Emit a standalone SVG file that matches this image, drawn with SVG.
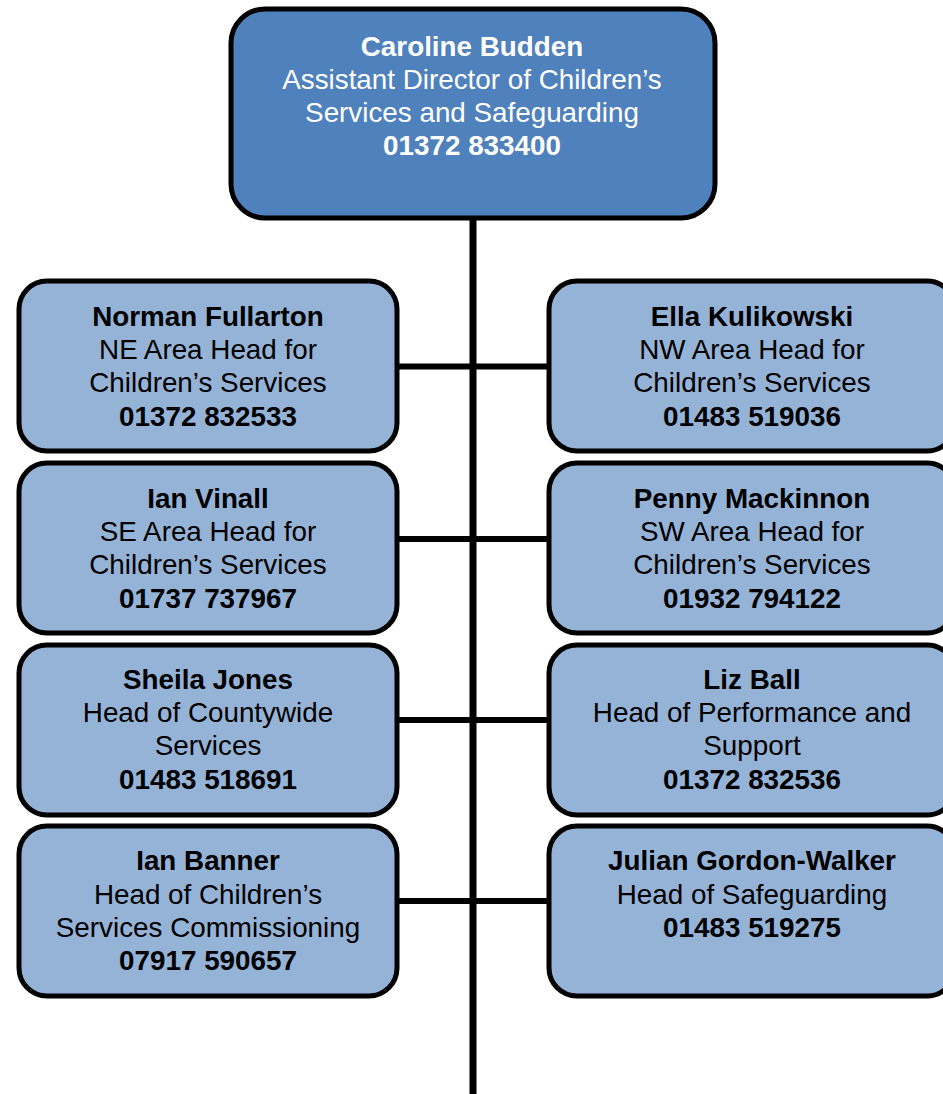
<svg xmlns="http://www.w3.org/2000/svg" width="943" height="1094" viewBox="0 0 943 1094">
<style>
.box{fill:#95b3d7;stroke:#000;stroke-width:5}
.top{fill:#4f81bd;stroke:#000;stroke-width:5}
text{font-family:"Liberation Sans",Arial,sans-serif;font-size:27.8px;text-anchor:middle;fill:#000}
.w{fill:#fff}
.b{font-weight:bold}
.conn{stroke:#000;stroke-width:6;fill:none}
.trunk{stroke:#000;stroke-width:7;fill:none}
</style>
<g id="connectors">
<line class="trunk" x1="473" y1="218" x2="473" y2="1094"/>
<line class="conn" x1="398" y1="366.5" x2="549" y2="366.5"/>
<line class="conn" x1="398" y1="539" x2="549" y2="539"/>
<line class="conn" x1="398" y1="720" x2="549" y2="720"/>
<line class="conn" x1="398" y1="901" x2="549" y2="901"/>
</g>
<g id="caroline">
<rect class="top" x="231" y="9" width="484" height="209" rx="34"/>
<text class="w b" x="472" y="56">Caroline Budden</text>
<text class="w" x="472" y="89">Assistant Director of Children’s</text>
<text class="w" x="472" y="122">Services and Safeguarding</text>
<text class="w b" x="472" y="155">01372 833400</text>
</g>
<g id="norman">
<rect class="box" x="19" y="281" width="378" height="170" rx="28"/>
<text class="b" x="208" y="326">Norman Fullarton</text>
<text x="208" y="359">NE Area Head for</text>
<text x="208" y="392">Children’s Services</text>
<text class="b" x="208" y="426">01372 832533</text>
</g>
<g id="ella">
<rect class="box" x="549" y="281" width="406" height="170" rx="28"/>
<text class="b" x="752" y="326">Ella Kulikowski</text>
<text x="752" y="359">NW Area Head for</text>
<text x="752" y="392">Children’s Services</text>
<text class="b" x="752" y="426">01483 519036</text>
</g>
<g id="ian-vinall">
<rect class="box" x="19" y="463" width="378" height="170" rx="28"/>
<text class="b" x="208" y="508">Ian Vinall</text>
<text x="208" y="541">SE Area Head for</text>
<text x="208" y="574">Children’s Services</text>
<text class="b" x="208" y="608">01737 737967</text>
</g>
<g id="penny">
<rect class="box" x="549" y="463" width="406" height="170" rx="28"/>
<text class="b" x="752" y="508">Penny Mackinnon</text>
<text x="752" y="541">SW Area Head for</text>
<text x="752" y="574">Children’s Services</text>
<text class="b" x="752" y="608">01932 794122</text>
</g>
<g id="sheila">
<rect class="box" x="19" y="645" width="378" height="170" rx="28"/>
<text class="b" x="208" y="689">Sheila Jones</text>
<text x="208" y="722">Head of Countywide</text>
<text x="208" y="755">Services</text>
<text class="b" x="208" y="789">01483 518691</text>
</g>
<g id="liz">
<rect class="box" x="549" y="645" width="406" height="170" rx="28"/>
<text class="b" x="752" y="689">Liz Ball</text>
<text x="752" y="722">Head of Performance and</text>
<text x="752" y="755">Support</text>
<text class="b" x="752" y="789">01372 832536</text>
</g>
<g id="ian-banner">
<rect class="box" x="19" y="826" width="378" height="170" rx="28"/>
<text class="b" x="208" y="870">Ian Banner</text>
<text x="208" y="904">Head of Children’s</text>
<text x="208" y="937">Services Commissioning</text>
<text class="b" x="208" y="970">07917 590657</text>
</g>
<g id="julian">
<rect class="box" x="549" y="826" width="406" height="170" rx="28"/>
<text class="b" x="752" y="870">Julian Gordon-Walker</text>
<text x="752" y="904">Head of Safeguarding</text>
<text class="b" x="752" y="937">01483 519275</text>
</g>
</svg>
